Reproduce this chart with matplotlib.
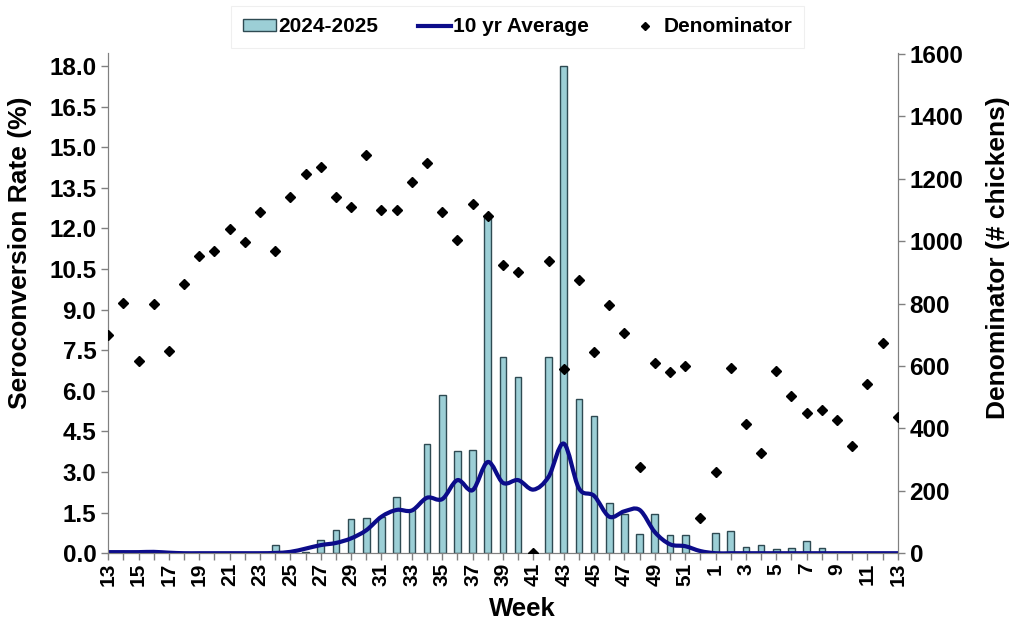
import numpy as np
import matplotlib
matplotlib.use('Agg')
import matplotlib.pyplot as plt
from matplotlib.path import Path
from matplotlib.patches import PathPatch, Patch
from matplotlib.lines import Line2D

plt.rcParams['font.family'] = ['Liberation Sans', 'DejaVu Sans']
plt.rcParams['font.weight'] = 'bold'

# ---- data ----
weeks = list(range(13, 53)) + list(range(1, 14))

rate_2024 = [0, 0, 0, 0, 0, 0, 0, 0, 0, 0, 0,           # 13-23
             0.3, 0.1, 0.05, 0.5, 0.87, 1.25, 1.3, 1.35,  # 24-31
             2.07, 1.6, 4.05, 5.85, 3.78, 3.83, 12.5,     # 32-38
             7.25, 6.52, 0, 7.25, 18.0, 5.68, 5.07,       # 39-45
             1.85, 1.45, 0.72, 1.44, 0.66, 0.66, 0,       # 46-52
             0.73, 0.82, 0.24, 0.3, 0.16, 0.2, 0.45, 0.2, # 1-8
             0, 0, 0, 0, 0]                               # 9-13

avg_10yr = [0.04, 0.04, 0.04, 0.05, 0.02, 0, 0, 0, 0, 0, 0, 0.01,  # 13-24
            0.05, 0.17, 0.3, 0.38, 0.55, 0.85, 1.35, 1.6,         # 25-32
            1.58, 2.05, 2.0, 2.7, 2.33, 3.37, 2.6, 2.7,           # 33-40
            2.35, 2.82, 4.05, 2.4, 2.12, 1.35, 1.55, 1.6,         # 41-48
            0.78, 0.33, 0.26, 0.08,                               # 49-52
            0, 0, 0, 0, 0, 0, 0, 0, 0, 0, 0, 0, 0]                # 1-13

denominator = [700, 803, 617, 800, 649, 864, 951, 967, 1038, 996,    # 13-22
               1095, 970, 1140, 1214, 1237, 1140, 1108, 1275, 1099,  # 23-31
               1100, 1190, 1250, 1093, 1005, 1120, 1080, 925, 900,   # 32-40
               0, 936, 591, 877, 645, 797, 706, 275, 611, 580, 601,  # 41-51
               113,                                                  # 52
               259, 594, 414, 322, 585, 504, 450, 459, 427, 344,     # 1-10
               543, 674, 435]                                        # 11-13


def smooth_path(xs, ys):
    # excel style smoothed line: bezier segments through the points
    pts = np.column_stack([xs, ys]).astype(float)
    n = len(pts)
    verts = [pts[0]]
    codes = [Path.MOVETO]
    for i in range(n - 1):
        p0 = pts[i - 1] if i > 0 else pts[i]
        p1 = pts[i]
        p2 = pts[i + 1]
        p3 = pts[i + 2] if i + 2 < n else pts[i + 1]
        c1 = p1 + (p2 - p0) / 6.0
        c2 = p2 - (p3 - p1) / 6.0
        verts += [c1, c2, p2]
        codes += [Path.CURVE4] * 3
    return Path(verts, codes)


x = np.arange(len(weeks))

fig = plt.figure(figsize=(10.11, 6.23), dpi=100)
ax = fig.add_axes([0.107, 0.112, 0.781, 0.803])
ax2 = ax.twinx()

bar_face = '#9ccfd6'
bar_edge = '#2e4a52'
line_col = '#0c0c8a'

ax.bar(x, rate_2024, width=0.44, color=bar_face, edgecolor=bar_edge, linewidth=1.0, zorder=2)
ax.add_patch(PathPatch(smooth_path(x, avg_10yr), facecolor='none', edgecolor=line_col,
                       linewidth=3.0, zorder=3, capstyle='round', joinstyle='round'))
ax2.plot(x, denominator, linestyle='none', marker='D', markersize=5, color='black', zorder=4)

ax.set_xlim(0, len(weeks) - 1)
ax.set_ylim(0, 18 * 500 / 487)
ax2.set_ylim(0, 1600 * 500 / 499)

ax.set_yticks(np.arange(0, 18.01, 1.5))
ax.set_yticklabels(['%.1f' % v for v in np.arange(0, 18.01, 1.5)], fontsize=17.5, fontweight='bold')
ax2.set_yticks(np.arange(0, 1601, 200))
ax2.set_yticklabels([str(v) for v in range(0, 1601, 200)], fontsize=17.5, fontweight='bold')

ax.set_xticks(x)
ax.set_xticklabels([str(w) if i % 2 == 0 else '' for i, w in enumerate(weeks)],
                   rotation=90, fontsize=15, fontweight='bold')

ax.set_ylabel('Seroconversion Rate (%)', fontsize=19, fontweight='bold')
ax2.set_ylabel('Denominator (# chickens)', fontsize=19, fontweight='bold')
ax.set_xlabel('Week', fontsize=18.5, fontweight='bold')
ax.yaxis.set_label_coords(-0.097, 0.60)
ax2.yaxis.set_label_coords(1.112, 0.59)
ax.xaxis.set_label_coords(0.524, -0.088)

for a in (ax, ax2):
    a.spines['top'].set_visible(False)
    for s in ('left', 'right', 'bottom'):
        a.spines[s].set_color('#808080')
    a.tick_params(colors='#808080', labelcolor='black', length=5, width=1)
ax.tick_params(axis='x', pad=2)

handles = [Patch(facecolor=bar_face, edgecolor=bar_edge),
           Line2D([], [], color=line_col, linewidth=3.0),
           Line2D([], [], linestyle='none', marker='D', markersize=4.5, color='black')]
leg = fig.legend(handles, ['2024-2025', '10 yr Average', 'Denominator'],
                 loc='upper center', bbox_to_anchor=(0.512, 0.997), ncol=3,
                 fontsize=15, frameon=True, fancybox=False, edgecolor='#ececec',
                 handlelength=1.6, handleheight=0.5, handletextpad=0.1, columnspacing=1.9,
                 borderpad=0.55, borderaxespad=0.2)
leg.get_frame().set_linewidth(0.8)
for t in leg.get_texts():
    t.set_fontweight('bold')

fig.savefig('out.png', dpi=100)
